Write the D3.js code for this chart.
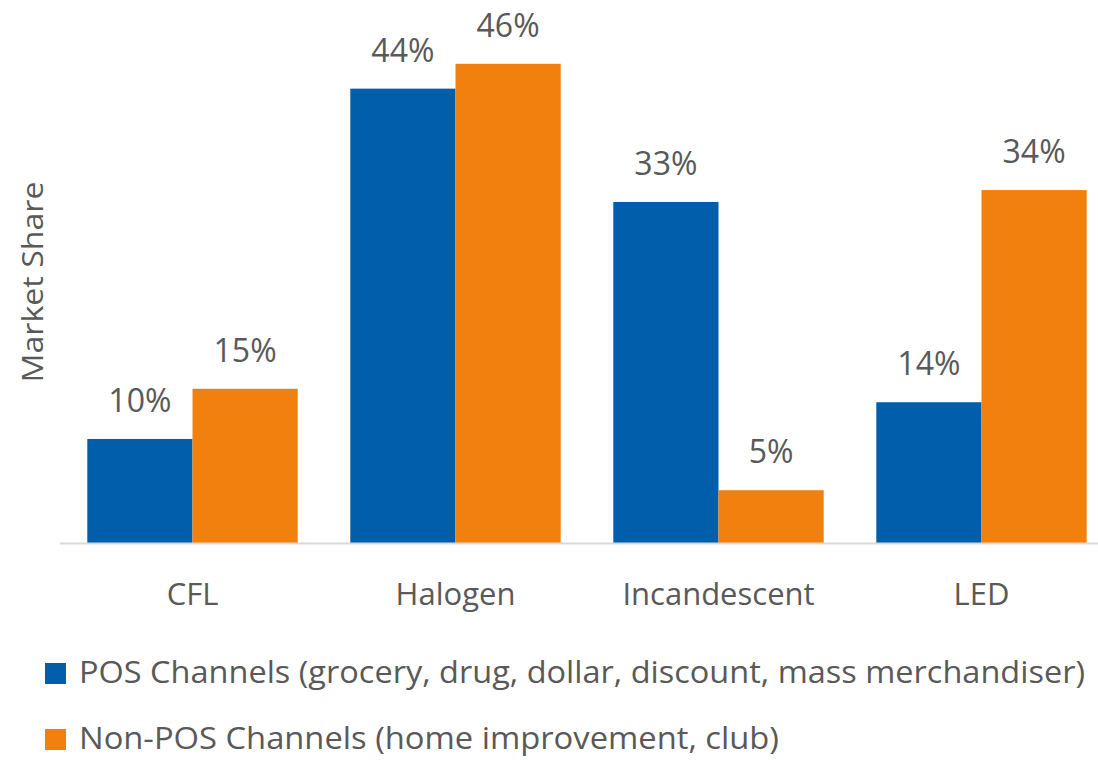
<!DOCTYPE html>
<html lang="en">
<head>
<meta charset="UTF-8">
<title>Market Share by Lamp Type</title>
<style>
  body { margin: 0; background: #fff; }
  text { font-family: "Open Sans", "Noto Sans", sans-serif; fill: #595959; }
</style>
</head>
<body>
<script src="https://cdn.jsdelivr.net/npm/d3@7"></script>
<script>
  // data
  const categories = ['CFL', 'Halogen', 'Incandescent', 'LED'];
  const seriesNames = [
    'POS Channels (grocery, drug, dollar, discount, mass merchandiser)',
    'Non-POS Channels (home improvement, club)'
  ];
  const posValues = [10.05, 43.9, 32.95, 13.6];
  const nonPosValues = [14.9, 46.3, 5.1, 34.1];
  const colors = ['#005EAA', '#F2800F'];

  const w = 1098;
  const h = 760;
  const baseY = 543;

  const svg = d3.select('body')
    .append('svg')
    .attr('width', w)
    .attr('height', h);

  const x0 = d3.scaleBand()
    .domain(categories)
    .range([61, 1113])
    .paddingInner(0.2)
    .paddingOuter(0.1);

  const x1 = d3.scaleBand()
    .domain([0, 1])
    .range([0, x0.bandwidth()]);

  const y = d3.scaleLinear()
    .domain([0, 50])
    .range([baseY, baseY - 517.5]);

  const rows = categories.map((c, i) => ({ cat: c, vals: [posValues[i], nonPosValues[i]] }));

  const groups = svg.selectAll('g.cat')
    .data(rows)
    .enter()
    .append('g')
    .attr('class', 'cat')
    .attr('transform', d => `translate(${x0(d.cat)},0)`);

  groups.selectAll('rect')
    .data(d => d.vals.map((v, k) => ({ v, k })))
    .enter()
    .append('rect')
    .attr('x', d => x1(d.k))
    .attr('y', d => y(d.v))
    .attr('width', x1.bandwidth())
    .attr('height', d => baseY - y(d.v))
    .attr('fill', d => colors[d.k]);

  groups.selectAll('text.val')
    .data(d => d.vals.map((v, k) => ({ v, k })))
    .enter()
    .append('text')
    .attr('class', 'val')
    .attr('x', d => x1(d.k) + x1.bandwidth() / 2)
    .attr('y', d => y(d.v) - 27)
    .attr('text-anchor', 'middle')
    .attr('font-size', '32px')
    .text(d => `${Math.round(d.v)}%`);

  // x axis
  const xAxis = svg.append('g')
    .attr('transform', `translate(0,${baseY})`)
    .call(d3.axisBottom(x0).tickSize(0).tickPadding(0));
  xAxis.select('.domain').remove();
  xAxis.append('line')
    .attr('x1', 60).attr('x2', w)
    .attr('y1', 0.5).attr('y2', 0.5)
    .attr('stroke', '#d9d9d9')
    .attr('stroke-width', 2);
  xAxis.selectAll('.tick text')
    .attr('dy', null)
    .attr('y', 62)
    .attr('font-size', '31px')
    .attr('font-family', '"Open Sans", "Noto Sans", sans-serif')
    .attr('fill', '#595959');

  // y axis title
  svg.append('text')
    .attr('transform', 'translate(43,282) rotate(-90)')
    .attr('text-anchor', 'middle')
    .attr('font-size', '30px')
    .attr('textLength', 201)
    .attr('lengthAdjust', 'spacingAndGlyphs')
    .text('Market Share');

  // legend
  const legendWidths = [1006, 700];
  const legend = svg.selectAll('g.legend')
    .data(seriesNames)
    .enter()
    .append('g')
    .attr('class', 'legend')
    .attr('transform', (d, i) => `translate(45,${663 + i * 66})`);

  legend.append('rect')
    .attr('width', 21)
    .attr('height', 21)
    .attr('fill', (d, i) => colors[i]);

  legend.append('text')
    .attr('x', 34)
    .attr('y', 20)
    .attr('font-size', '31px')
    .attr('textLength', (d, i) => legendWidths[i])
    .attr('lengthAdjust', 'spacingAndGlyphs')
    .text(d => d);
</script>
</body>
</html>
